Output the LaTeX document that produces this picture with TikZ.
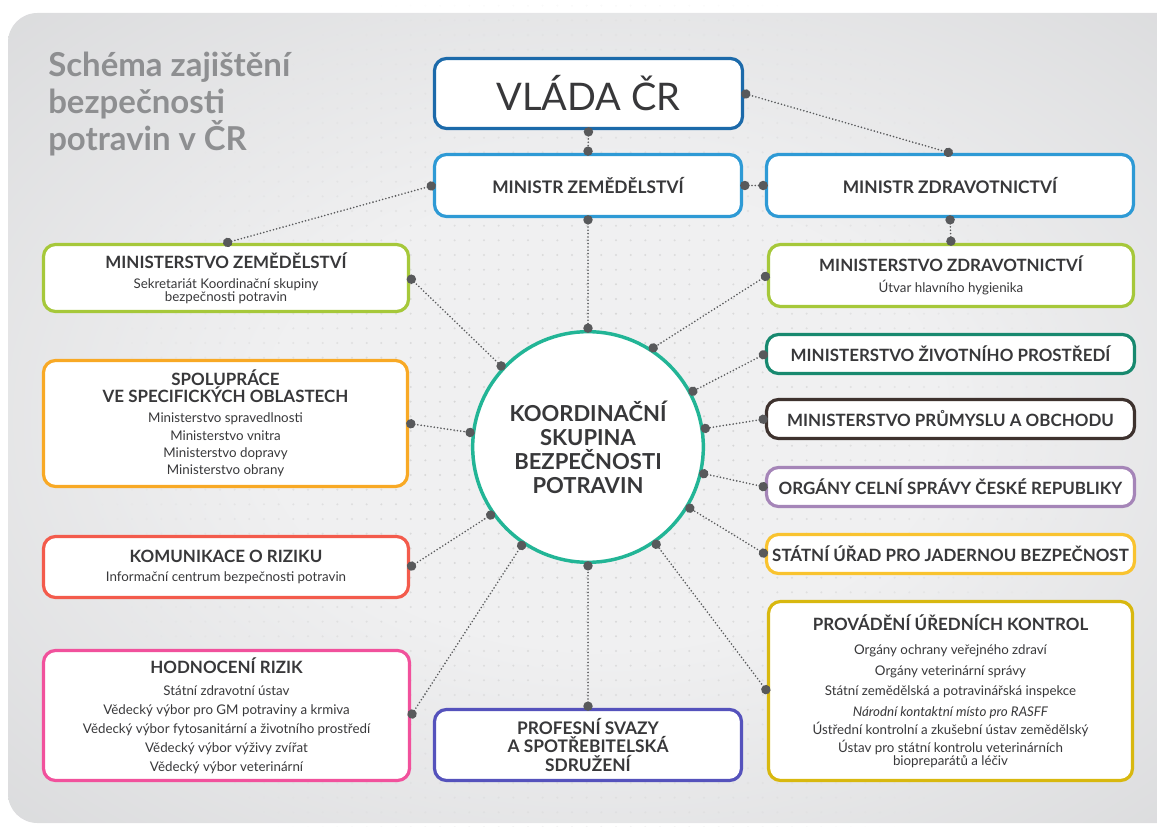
\documentclass[tikz,border=0pt]{standalone}
\usepackage{fontspec}
\setmainfont{Lato}
\usepackage{tikz}
\usetikzlibrary{positioning,arrows.meta,patterns.meta,fadings}
\usepackage{xcolor}

\definecolor{ink}{HTML}{38383A}
\definecolor{titlegray}{HTML}{8E8F91}
\definecolor{knob}{HTML}{58595B}
\definecolor{panelin}{HTML}{F0F0F1}
\definecolor{panelout}{HTML}{CDCED0}
\definecolor{govblue}{HTML}{1C6AAA}
\definecolor{minblue}{HTML}{2E9AD5}
\definecolor{lime}{HTML}{A6C83A}
\definecolor{hubteal}{HTML}{22B596}
\definecolor{envteal}{HTML}{18896F}
\definecolor{tradebrown}{HTML}{3E322E}
\definecolor{lavender}{HTML}{A585B8}
\definecolor{nucyellow}{HTML}{F9C32F}
\definecolor{mustard}{HTML}{D8B80F}
\definecolor{indigo}{HTML}{5552BC}
\definecolor{pinkline}{HTML}{F1519C}
\definecolor{coral}{HTML}{F35B4C}
\definecolor{amber}{HTML}{F8A925}

\pgfdeclareradialshading{panelglow}{\pgfpoint{0bp}{0bp}}{color(0bp)=(panelin); color(14bp)=(panelin); color(50bp)=(panelout)}
\tikzfading[name=fieldfade, inner color=transparent!0, outer color=transparent!100]

\newcommand{\hd}{\fontsize{12.7}{14}\selectfont\bfseries}
\newcommand{\hdm}{\fontsize{13}{15}\selectfont\bfseries}

\begin{document}
\begin{tikzpicture}[x=0.75pt, y=-0.75pt,
    box/.style={draw=#1, fill=white, line width=2.4pt, rounded corners=9pt,
                align=center, text=ink, inner sep=0pt,
                font=\fontsize{10}{13}\selectfont},
    bar/.style={box=#1, minimum width=276pt, minimum height=29.25pt, font=\hd},
    hub/.style={circle, draw=hubteal, fill=white, line width=2.6pt, minimum size=173pt,
                align=center, text=ink, inner sep=0pt,
                font=\fontsize{16.5}{18}\selectfont\bfseries},
    title/.style={anchor=north west, align=left, inner sep=0pt, text=titlegray,
                  font=\fontsize{24.7}{27.75}\selectfont\bfseries},
    link/.style={draw=knob, line width=1.35pt, line cap=round, dash pattern=on 0pt off 2.5pt,
                 {Circle[length=7pt]}-{Circle[length=7pt]},
                 shorten <=-2.2pt, shorten >=-2.2pt}]

    % background panel with dot field
    \useasboundingbox (0,0) rectangle (1157,827);
    \clip (0,0) rectangle (1157,827);
    \shade[shading=panelglow, rounded corners=22pt] (8,13) rectangle (1200,823);
    \fill[pattern={Dots[distance=11pt, radius=0.85pt]}, pattern color=black!20,
          path fading=fieldfade] (588,447) circle (370pt);

    \node[title] (ttl) at (48,52) {Schéma zajištění\\bezpečnosti\\potravin v ČR};

    % government and ministers
    \node[box=govblue, minimum width=231pt, minimum height=52.5pt,
          font=\fontsize{28.5}{32}\selectfont] (vlada) at (588.5,93.5) {VLÁDA ČR};
    \node[box=minblue, minimum width=230.25pt, minimum height=46.5pt, font=\hdm] (mzem) at (588,185.5) {MINISTR ZEMĚDĚLSTVÍ};
    \node[box=minblue, minimum width=275.25pt, minimum height=46.5pt, font=\hdm] (mzdr) at (950,185.5) {MINISTR ZDRAVOTNICTVÍ};

    % central group
    \node[hub] (kgs) at (588,447) {KOORDINAČNÍ\\SKUPINA\\BEZPEČNOSTI\\POTRAVIN};

    % left column
    \node[box=lime, minimum width=273.75pt, minimum height=50.25pt] (mze) at (226,278)
        {{\hd MINISTERSTVO ZEMĚDĚLSTVÍ}\\[2pt] Sekretariát Koordinační skupiny\\[-3.5pt] bezpečnosti potravin};
    \node[box=amber, minimum width=273pt, minimum height=94.5pt] (spoluprace) at (225.5,423.5)
        {{\hd SPOLUPRÁCE}\\[-0.5pt]{\hd VE SPECIFICKÝCH OBLASTECH}\\[2.5pt] Ministerstvo spravedlnosti\\ Ministerstvo vnitra\\ Ministerstvo dopravy\\ Ministerstvo obrany};
    \node[box=coral, minimum width=273.75pt, minimum height=45.75pt] (komunikace) at (226,567)
        {{\hd KOMUNIKACE O RIZIKU}\\[1.25pt] Informační centrum bezpečnosti potravin};
    \node[box=pinkline, minimum width=274.5pt, minimum height=97.5pt] (hodnoceni) at (226.5,715.5)
        {{\hd HODNOCENÍ RIZIK}\\[3.5pt] Státní zdravotní ústav\\[1.25pt] Vědecký výbor pro GM potraviny a krmiva\\[1.25pt] Vědecký výbor fytosanitární a životního prostředí\\[1.25pt] Vědecký výbor výživy zvířat\\[1.25pt] Vědecký výbor veterinární};
    \node[box=indigo, minimum width=230.25pt, minimum height=53.25pt] (profesni) at (588,745)
        {{\hdm PROFESNÍ SVAZY}\\[1pt]{\hdm A SPOTŘEBITELSKÁ}\\[1pt]{\hdm SDRUŽENÍ}};

    % right column
    \node[box=lime, minimum width=273.75pt, minimum height=46.5pt] (mzd) at (951,275.5)
        {{\hd MINISTERSTVO ZDRAVOTNICTVÍ}\\[2.75pt] Útvar hlavního hygienika};
    \node[bar=envteal] (mzp) at (950.5,354) {MINISTERSTVO ŽIVOTNÍHO PROSTŘEDÍ};
    \node[bar=tradebrown] (mpo) at (950.5,419) {MINISTERSTVO PRŮMYSLU A OBCHODU};
    \node[bar=lavender] (celni) at (950.5,487) {ORGÁNY CELNÍ SPRÁVY ČESKÉ REPUBLIKY};
    \node[bar=nucyellow] (sujb) at (950.5,554) {STÁTNÍ ÚŘAD PRO JADERNOU BEZPEČNOST};
    \node[box=mustard, minimum width=273pt, minimum height=134.25pt] (kontroly) at (950.5,691)
        {{\hd PROVÁDĚNÍ ÚŘEDNÍCH KONTROL}\\[5pt] Orgány ochrany veřejného zdraví\\[2.5pt] Orgány veterinární správy\\[2.5pt] Státní zemědělská a potravinářská inspekce\\[2.5pt] \textit{Národní kontaktní místo pro RASFF}\\[0.5pt] Ústřední kontrolní a zkušební ústav zemědělský\\[0.5pt] Ústav pro státní kontrolu veterinárních\\[-3.5pt] biopreparátů a léčiv};

    % dotted links
    \draw[link] (vlada.south) -- (mzem.north);
    \draw[link] (vlada.east) -- (mzdr.north);
    \draw[link] (mzem.east) -- (mzdr.west);
    \draw[link] (mzem.west) -- (mze.north);
    \draw[link] (mzdr.south) -- (mzd.north);
    \draw[link] (mzem.south) -- (kgs.90);
    \draw[link] (mze.east) -- (kgs.137);
    \draw[link] (spoluprace.east) -- (kgs.173);
    \draw[link] (komunikace.east) -- (kgs.215);
    \draw[link] (hodnoceni.east) -- (kgs.236);
    \draw[link] (profesni.north) -- (kgs.270);
    \draw[link] (mzd.west) -- (kgs.57);
    \draw[link] (mzp.west) -- (kgs.28);
    \draw[link] (mpo.west) -- (kgs.9);
    \draw[link] (celni.west) -- (kgs.-13);
    \draw[link] (sujb.west) -- (kgs.-31);
    \draw[link] (kontroly.west) -- (kgs.-55);
\end{tikzpicture}
\end{document}
